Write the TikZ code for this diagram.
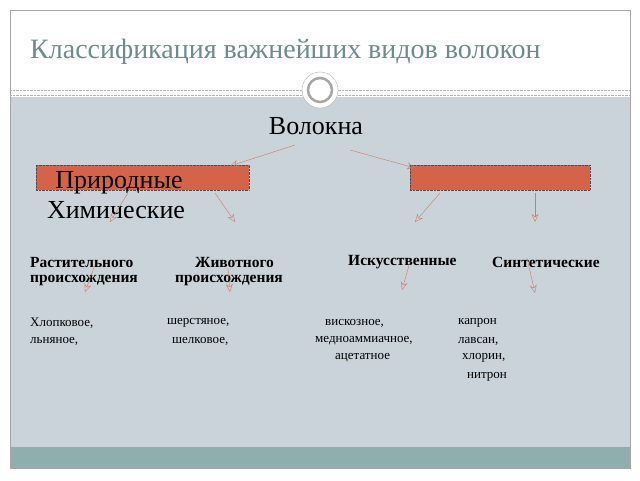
\documentclass[tikz,border=0pt]{standalone}
\usepackage{fontspec}
\setmainfont{Liberation Serif}
\usetikzlibrary{arrows.meta}
\definecolor{slidebg}{HTML}{C9D3D9}
\definecolor{bandbg}{HTML}{8EAFAD}
\definecolor{boxred}{HTML}{D4634A}
\definecolor{titlecol}{HTML}{6E8C8C}
\definecolor{arrowcol}{HTML}{D07A66}
\begin{document}
\begin{tikzpicture}[x = 1pt, y = -1pt,
    redbox/.style = {fill = boxred, draw = gray!60!black, densely dotted},
    kind/.style = {anchor = west, font = \fontsize{15.5}{17}\selectfont\bfseries, inner sep = 0pt},
    item/.style = {anchor = west, font = \fontsize{13}{15}\selectfont, inner sep = 0pt},
    link/.style = {-{Stealth[open, length = 8pt, width = 7pt]}, draw = arrowcol}]

	\useasboundingbox (0, 0) rectangle (640, 480);
	\fill[white] (0, 0) rectangle (640, 480);
	\fill[slidebg] (10, 97) rectangle (630, 447);
	\fill[bandbg] (10, 447) rectangle (630, 468);
	\draw[gray!70] (10, 10) rectangle (630, 468);
	\draw[gray!60, densely dotted] (10, 90) -- (630, 90);
	\draw[gray!60, densely dotted] (10, 95) -- (630, 95);
	\node (ring) at (320, 90) [circle, minimum size = 36pt, fill = white, draw = gray!60] {};
	\node at (ring) [circle, minimum size = 24pt, draw = gray!70, line width = 2.5pt] {};

	\node (title) at (30, 52) [anchor = west, inner sep = 0pt, text = titlecol, font = \fontsize{28}{30}\selectfont] {Классификация важнейших видов волокон};
	\node (fibre) at (316, 126) [font = \fontsize{26}{28}\selectfont] {Волокна};

	\node (natbox) at (142.5, 177.5) [redbox, minimum width = 213pt, minimum height = 25pt] {};
	\node (chembox) at (500, 177.5) [redbox, minimum width = 180pt, minimum height = 25pt] {};
	\node (nat)  at (119, 183) [font = \fontsize{26}{28}\selectfont] {Природные};
	\node (chem) at (116, 210) [font = \fontsize{26}{28}\selectfont] {Химические};

	\node (plant)  at (30, 262)  [kind] {Растительного};
	\node (plant2) at (30, 280)  [kind] {происхождения};
	\node (anim)   at (195, 262) [kind] {Животного};
	\node (anim2)  at (175, 280) [kind] {происхождения};
	\node (art)    at (348, 262) [kind] {Искусственные};
	\node (syn)    at (492, 262) [kind] {Синтетические};

	\node (cot)  at (30, 323)  [item] {Хлопковое,};
	\node (lin)  at (30, 341)  [item] {льняное,};
	\node (wool) at (167, 323) [item] {шерстяное,};
	\node (silk) at (172, 341) [item] {шелковое,};
	\node (visc) at (325, 323) [item] {вискозное,};
	\node (cupr) at (315, 341) [item] {медноаммиачное,};
	\node (acet) at (335, 358) [item] {ацетатное};
	\node (kapr) at (458, 323) [item] {капрон};
	\node (lavs) at (458, 341) [item] {лавсан,};
	\node (chlo) at (462, 358) [item] {хлорин,};
	\node (nitr) at (467, 377) [item] {нитрон};

	\foreach \name/\x/\y in {a1/295/145, a2/230/166, b1/350/150, b2/415/168,
	    c1/128/193, c2/110/222, d1/215/193, d2/235/222, e1/440/193, e2/415/222,
	    f1/535/193, f2/535/222, g1/95/265, g2/85/292, h1/228/268, h2/230/292,
	    i1/410/262, i2/402/290, j1/527/258, j2/535/293}
		\coordinate (\name) at (\x, \y);

	\foreach \from/\to in {a1/a2, b1/b2, c1/c2, d1/d2, e1/e2, f1/f2, g1/g2, h1/h2, i1/i2, j1/j2}
		\draw[link] (\from) -- (\to);

\end{tikzpicture}
\end{document}
